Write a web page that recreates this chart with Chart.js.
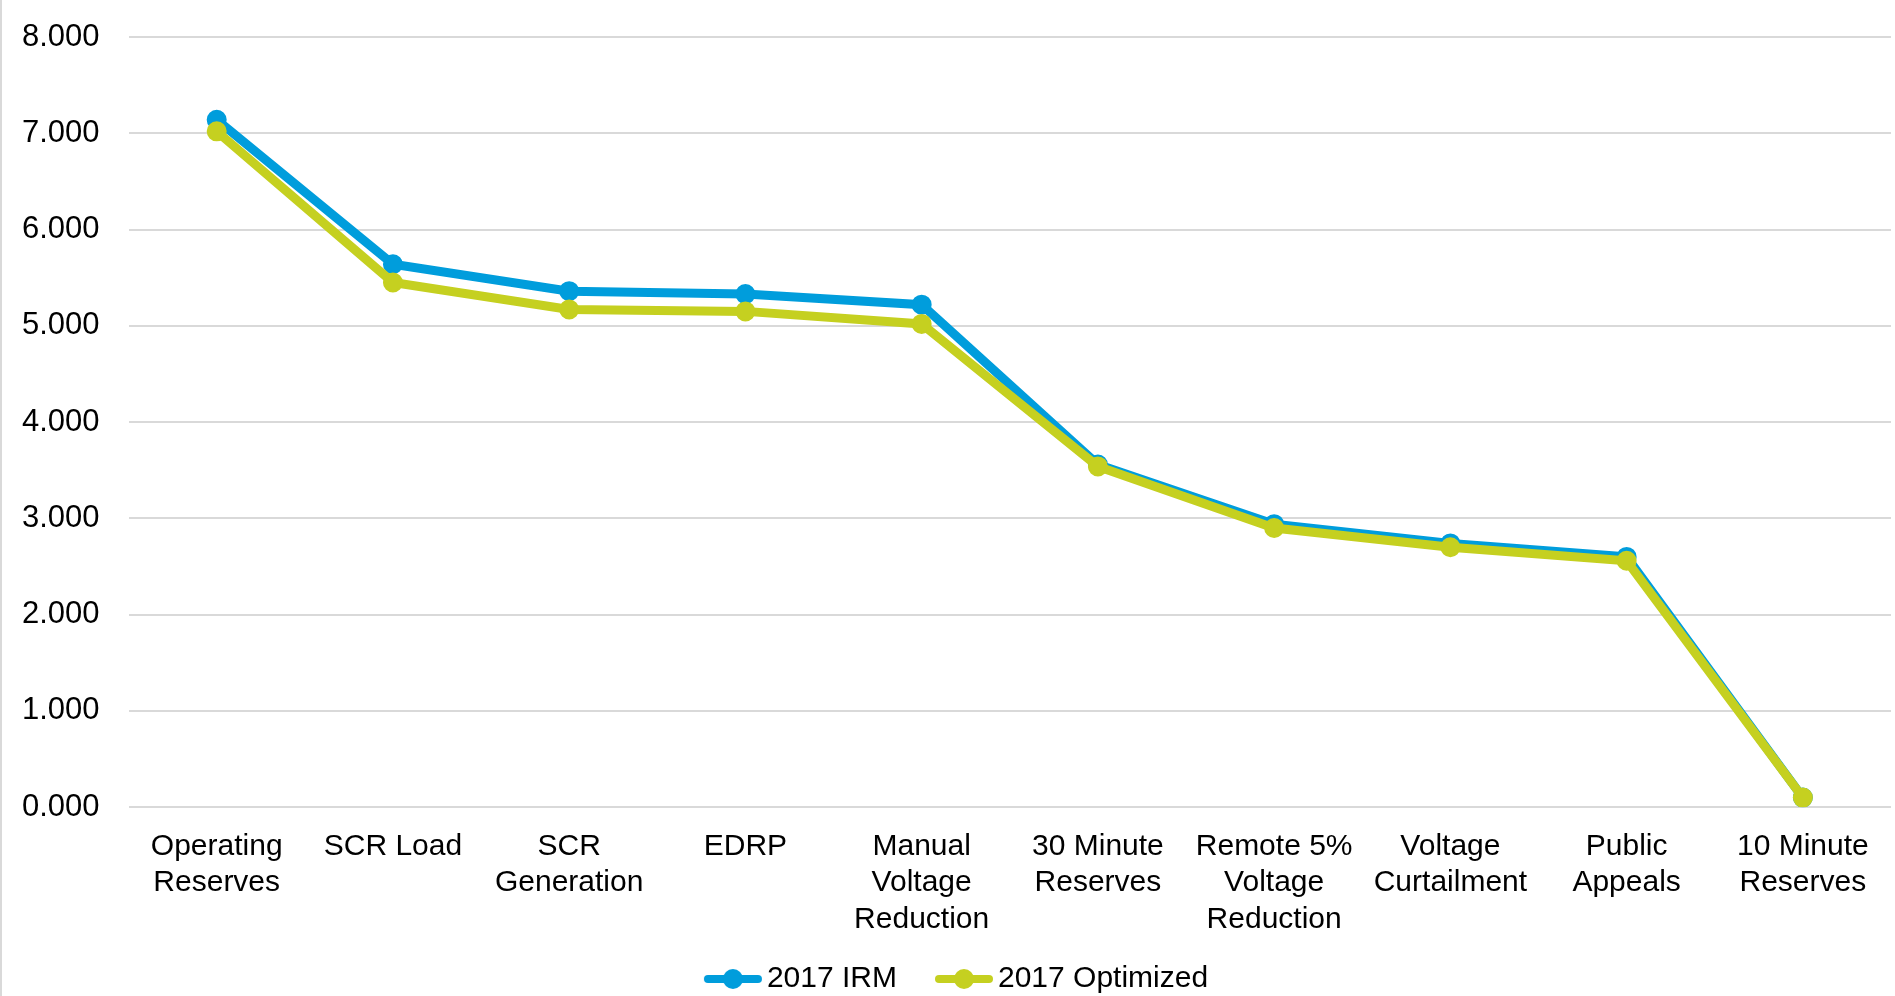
<!DOCTYPE html>
<html>
<head>
<meta charset="utf-8">
<script src="https://cdn.jsdelivr.net/npm/chart.js@4/dist/chart.umd.min.js"></script>
<style>
  html, body { margin: 0; padding: 0; background: #fff; }
  #wrap { position: relative; width: 1895px; height: 996px; border-left: 2px solid #d9d9d9; box-sizing: border-box; }
</style>
</head>
<body>
<div id="wrap"><canvas id="myChart"></canvas></div>
<script>
// Datos
const categorias = [
  ["Operating", "Reserves"],
  "SCR Load",
  ["SCR", "Generation"],
  "EDRP",
  ["Manual", "Voltage", "Reduction"],
  ["30 Minute", "Reserves"],
  ["Remote 5%", "Voltage", "Reduction"],
  ["Voltage", "Curtailment"],
  ["Public", "Appeals"],
  ["10 Minute", "Reserves"]
];
const irm2017 = [7.14, 5.64, 5.36, 5.33, 5.22, 3.56, 2.94, 2.74, 2.60, 0.10];
const optimizado2017 = [7.02, 5.45, 5.17, 5.15, 5.02, 3.54, 2.90, 2.70, 2.56, 0.10];
const ticksY = [0, 1, 2, 3, 4, 5, 6, 7, 8];

const AZUL = "rgb(0, 157, 220)";
const VERDE = "rgb(197, 208, 32)";
const fuente = "'Liberation Sans', Arial, sans-serif";

// icono de leyenda: linea con punto (con margen transparente a la izquierda)
function iconoLeyenda(color) {
  const c = document.createElement("canvas");
  c.width = 98;
  c.height = 22;
  const g = c.getContext("2d");
  const x0 = 98 - 60;
  g.strokeStyle = color;
  g.lineWidth = 8;
  g.lineCap = "round";
  g.beginPath();
  g.moveTo(x0 + 5, 11);
  g.lineTo(x0 + 55, 11);
  g.stroke();
  g.fillStyle = color;
  g.beginPath();
  g.arc(x0 + 30, 11, 10, 0, Math.PI * 2);
  g.fill();
  return c;
}

const ctx = document.getElementById("myChart").getContext("2d");

const myChart = new Chart(ctx, {
  type: "line",
  data: {
    labels: categorias,
    datasets: [
      {
        label: "2017 IRM",
        data: irm2017,
        order: 1,
        borderColor: AZUL,
        backgroundColor: AZUL,
        borderWidth: 9,
        pointRadius: 9,
        pointBorderWidth: 2,
        pointBackgroundColor: AZUL,
        pointBorderColor: AZUL,
        tension: 0,
        fill: false
      },
      {
        label: "2017 Optimized",
        data: optimizado2017,
        order: 0,
        borderColor: VERDE,
        backgroundColor: VERDE,
        borderWidth: 9,
        pointRadius: 9,
        pointBorderWidth: 2,
        pointBackgroundColor: VERDE,
        pointBorderColor: VERDE,
        tension: 0,
        fill: false
      }
    ]
  },
  options: {
    responsive: true,
    maintainAspectRatio: false,
    animation: false,
    layout: { autoPadding: false, padding: { top: 37, left: -9, right: 4, bottom: -8 } },
    plugins: {
      title: { display: false },
      tooltip: { enabled: false },
      legend: {
        position: "bottom",
        labels: {
          usePointStyle: true,
          pointStyleWidth: 76,
          color: "#000",
          font: { family: fuente, size: 30 },
          padding: 10,
          generateLabels: (chart) =>
            chart.data.datasets.map((ds, i) => ({
              text: ds.label,
              fillStyle: ds.borderColor,
              strokeStyle: ds.borderColor,
              lineWidth: 0,
              pointStyle: iconoLeyenda(ds.borderColor),
              datasetIndex: i,
              hidden: false,
              fontColor: "#000"
            }))
        }
      }
    },
    scales: {
      x: {
        offset: true,
        grid: { display: false, drawTicks: false },
        border: { display: false },
        afterFit: (axis) => {
          axis.height -= 5;
          axis.paddingLeft = 0;
          axis.paddingRight = 0;
        },
        ticks: {
          color: "#000",
          font: { family: fuente, size: 30, lineHeight: 1.22 },
          padding: 21,
          maxRotation: 0,
          autoSkip: false
        }
      },
      y: {
        min: 0,
        max: 8,
        afterBuildTicks: (axis) => {
          axis.ticks = ticksY.map((v) => ({ value: v }));
        },
        afterFit: (axis) => {
          axis.paddingTop = 0;
          axis.paddingBottom = 0;
        },
        grid: { color: "#d9d9d9", lineWidth: 2, drawTicks: false },
        border: { display: false },
        ticks: {
          color: "#000",
          font: { family: fuente, size: 31 },
          padding: 29,
          callback: (v) => Number(v).toFixed(3)
        }
      }
    }
  }
});
</script>
</body>
</html>
